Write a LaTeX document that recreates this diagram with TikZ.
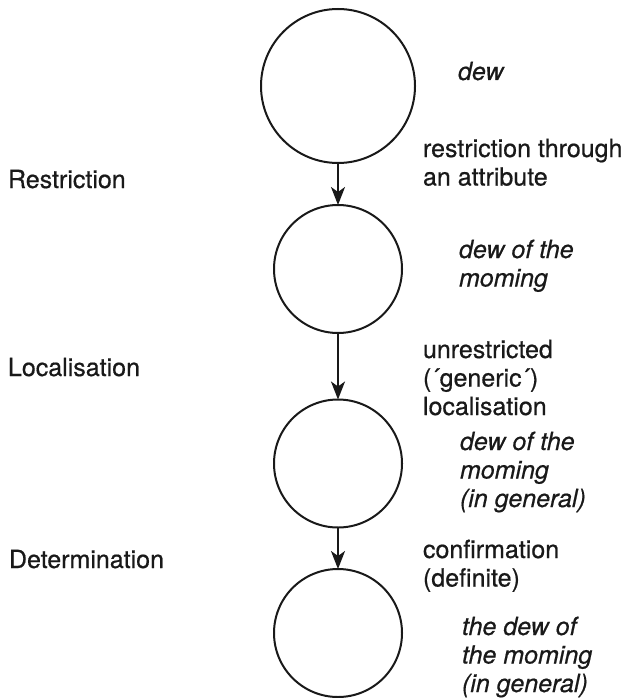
\documentclass[tikz,border=0pt]{standalone}
\usepackage{fontspec}
\setmainfont{TeX Gyre Heros}[UprightFeatures={FakeBold=0.6},ItalicFeatures={FakeBold=0.6}]
\usetikzlibrary{arrows.meta}
\definecolor{ink}{gray}{0.1}
\newcommand{\stack}[1]{\begin{tabular}[t]{@{}l@{}}#1\end{tabular}}
\begin{document}
\begin{tikzpicture}[x=1pt,y=-1pt,
  every node/.style={inner sep=0pt, outer sep=0pt, text=ink},
  txt/.style={anchor=base west, font=\fontsize{25}{28.5}\selectfont},
  gloss/.style={txt, font=\fontsize{25}{28.5}\selectfont\itshape},
  stage/.style={circle, draw=ink, line width=2pt},
  flow/.style={draw=ink, line width=2pt,
    -{Stealth[length=18pt,width=14pt,inset=5pt]}}]
  \useasboundingbox (0,0) rectangle (627,698);

  % stages
  \node[stage, minimum size=154pt] (c1) at (338,86) {};
  \node[stage, minimum size=128pt] (c2) at (338,269) {};
  \node[stage, minimum size=128pt] (c3) at (338,463.5) {};
  \node[stage, minimum size=128pt] (c4) at (338,633) {};

  % transitions
  \draw[flow] (c1.south) -- (c2.north);
  \draw[flow] (c2.south) -- (c3.north);
  \draw[flow] (c3.south) -- (c4.north);

  % operation names
  \node[txt] (op1) at (8,188) {Restriction};
  \node[txt] (op2) at (8,376) {Localisation};
  \node[txt] (op3) at (9,568) {Determination};

  % descriptions of the operations
  \node[txt] (d1) at (423,157) {\stack{restriction through\\an attribute}};
  \node[txt] (d2) at (423,358) {\stack{unrestricted\\(´generic´)\\localisation}};
  \node[txt] (d3) at (423,558) {\stack{confirmation\\(definite)}};

  % example phrases
  \node[gloss] (e1) at (458,80) {dew};
  \node[gloss] (e2) at (459,258) {\stack{dew of the\\moming}};
  \node[gloss] (e3) at (460,450) {\stack{dew of the\\moming\\(in general)}};
  \node[gloss] (e4) at (462,635) {\stack{the dew of\\the moming\\(in general)}};
\end{tikzpicture}
\end{document}
